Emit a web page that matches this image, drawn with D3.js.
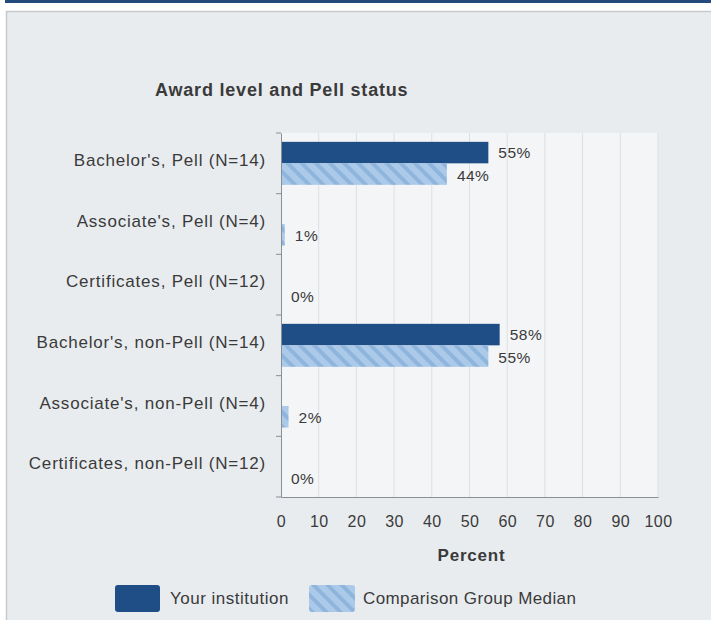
<!DOCTYPE html>
<html><head><meta charset="utf-8">
<script src="https://cdn.jsdelivr.net/npm/d3@7"></script>
<style>
html,body{margin:0;padding:0;background:#fff;}
svg{display:block;font-family:"Liberation Sans",Arial,sans-serif;}
</style></head>
<body><svg id="c" width="711" height="620"></svg>
<script>
const categories = ["Bachelor's, Pell (N=14)","Associate's, Pell (N=4)","Certificates, Pell (N=12)","Bachelor's, non-Pell (N=14)","Associate's, non-Pell (N=4)","Certificates, non-Pell (N=12)"];
const institution = [55, null, null, 58, null, null];
const comparison = [44, 1, 0, 55, 2, 0];
const xTicks = [0,10,20,30,40,50,60,70,80,90,100];
const seriesNames = ["Your institution","Comparison Group Median"];

const svg = d3.select("#c");
const defs = svg.append("defs");
const pat = defs.append("pattern").attr("id","hatch").attr("patternUnits","userSpaceOnUse")
  .attr("width",10).attr("height",10).attr("patternTransform","rotate(45)");
pat.append("rect").attr("width",10).attr("height",10).attr("fill","#abcaea");
pat.append("rect").attr("width",10).attr("height",4).attr("fill","#90b5dc");

const FONT = "Liberation Sans, Arial, sans-serif";
const TXT = "#3a3a3a";

// header bar & panel
svg.append("rect").attr("x",5).attr("y",0).attr("width",706).attr("height",3).attr("fill","#234b7b");
svg.append("rect").attr("x",6.5).attr("y",11.5).attr("width",710).attr("height",615).attr("fill","#e8ecef").attr("stroke","#c9c9c9").attr("stroke-width",1.5);

const L=281, R=658, T=133, B=497;
const x = d3.scaleLinear().domain([0,100]).range([L,R]);
const y = d3.scaleBand().domain(categories).range([T,B]);

svg.append("rect").attr("x",L).attr("y",T).attr("width",R-L).attr("height",B-T).attr("fill","#f4f5f7");

// grid
svg.append("g").selectAll("line").data(xTicks.slice(1)).join("line")
  .attr("x1",d=>x(d)).attr("x2",d=>x(d)).attr("y1",T).attr("y2",B)
  .attr("stroke","#dcdfe3").attr("stroke-width",1);

const bh = 21.5;
const off = (y.bandwidth()-2*bh)/2;
function valLabel(xx, yy, v){
  svg.append("text").attr("x",xx).attr("y",yy).attr("dy","0.35em")
    .attr("font-size",15.5).attr("letter-spacing",0.5).attr("fill",TXT).text(v+"%");
}
categories.forEach((c,i)=>{
  const v = institution[i];
  if (v!==null){
    svg.append("rect").attr("x",x(0)).attr("y",y(c)+off).attr("width",x(v)-x(0)).attr("height",bh).attr("fill","#1f4e86");
    valLabel(x(v)+10, y(c)+off+bh/2, v);
  }
  const w = comparison[i];
  if (w!==null){
    svg.append("rect").attr("x",x(0)).attr("y",y(c)+off+bh).attr("width",x(w)-x(0)).attr("height",bh).attr("fill","url(#hatch)");
    valLabel(x(w)+10, y(c)+off+bh*1.5+1, w);
  }
});

// axes
const yAxis = svg.append("g").attr("transform",`translate(${L},0)`)
  .call(d3.axisLeft(y).tickSize(0).tickPadding(15));
yAxis.select(".domain").attr("stroke","#8a8f96");
yAxis.selectAll("text").attr("font-size",17).attr("letter-spacing",0.8).attr("fill",TXT).attr("font-family",FONT).attr("dy","0.15em");
svg.append("g").selectAll("line").data(categories.concat(["_end"])).join("line")
  .attr("x1",L-5).attr("x2",L).attr("y1",(d,i)=>T+i*y.step()).attr("y2",(d,i)=>T+i*y.step())
  .attr("stroke","#8a8f96");

const xAxis = svg.append("g").attr("transform",`translate(0,${B})`)
  .call(d3.axisBottom(x).tickValues(xTicks).tickSize(0).tickPadding(19));
xAxis.select(".domain").attr("stroke","#8a8f96");
xAxis.selectAll("text").attr("font-size",16).attr("letter-spacing",0.4).attr("fill",TXT).attr("font-family",FONT);

svg.append("text").attr("x",(L+R)/2+2).attr("y",561).attr("text-anchor","middle")
  .attr("font-size",17).attr("letter-spacing",0.8).attr("font-weight","bold").attr("fill",TXT).text("Percent");
svg.append("text").attr("x",155).attr("y",96).attr("font-size",18).attr("letter-spacing",0.8).attr("font-weight","bold").attr("fill",TXT).text("Award level and Pell status");

// legend
const lg = svg.append("g");
lg.append("rect").attr("x",115).attr("y",585).attr("width",45).attr("height",27).attr("rx",3).attr("fill","#1f4e86");
lg.append("text").attr("x",170).attr("y",598).attr("dy","0.35em").attr("font-size",17).attr("letter-spacing",0.5).attr("fill",TXT).text(seriesNames[0]);
lg.append("rect").attr("x",309).attr("y",585).attr("width",46).attr("height",27).attr("rx",3).attr("fill","url(#hatch)");
lg.append("text").attr("x",363).attr("y",598).attr("dy","0.35em").attr("font-size",17).attr("letter-spacing",0.4).attr("fill",TXT).text(seriesNames[1]);
</script></body></html>
